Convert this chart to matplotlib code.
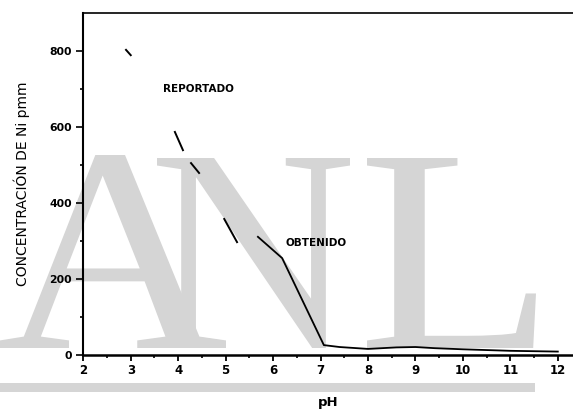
import numpy as np
import matplotlib
matplotlib.use("Agg")
import matplotlib.pyplot as plt
from matplotlib.textpath import TextPath
from matplotlib.patches import PathPatch, Rectangle
from matplotlib.font_manager import FontProperties
from matplotlib.transforms import Affine2D

# reported curve (dashed, only fragments survive in the scan; nan = gap)
rep_ph = [2.90, 3.00, np.nan, 3.93, 4.10, np.nan, 4.27, 4.44, np.nan, 4.97, 5.24]
rep_ni = [803, 789, np.nan, 587, 539, np.nan, 505, 479, np.nan, 358, 297]

# obtained curve
obt_ph = [5.68, 6.19, 7.07, 7.4, 8.0, 8.6, 9.0, 9.4, 10.0, 11.0, 12.0]
obt_ni = [311, 255, 26, 21, 16, 20, 21, 18, 15, 11, 9]

x_ticks = list(range(2, 13))
y_ticks = [0, 200, 400, 600, 800]

W, H = 573, 411
fig = plt.figure(figsize=(W / 100, H / 100), dpi=100)
ax = fig.add_axes([83.3 / W, 1 - 355 / H, 1 - 83.3 / W, 342 / H])
ax.patch.set_visible(False)

# watermark "ANL" behind the plot
gray = "#d5d5d5"
serif = FontProperties(family="Liberation Serif")
wm = {"A": (0, 226, 155, 348), "N": (157, 350, 158, 348), "L": (367, 536, 158, 348)}
for ch, (x0, x1, yt, yb) in wm.items():
    p = TextPath((0, 0), ch, size=1, prop=serif)
    ext = p.get_extents()
    tr = (Affine2D().translate(-ext.x0, -ext.y0)
          .scale((x1 - x0) / ext.width / W, (yb - yt) / ext.height / H)
          .translate(x0 / W, 1 - yb / H) + fig.transFigure)
    fig.add_artist(PathPatch(p, transform=tr, fc=gray, ec="none", zorder=-1))
fig.add_artist(Rectangle((0, 1 - 392 / H), 535 / W, 9 / H, transform=fig.transFigure,
                         fc=gray, ec="none", zorder=-1))

ax.plot(rep_ph, rep_ni, color="black", lw=1.4)
ax.plot(obt_ph, obt_ni, color="black", lw=1.3)

ax.text(4.43, 700, "REPORTADO", fontsize=7.5, fontweight="bold", ha="center", va="center")
ax.text(6.9, 295, "OBTENIDO", fontsize=7.5, fontweight="bold", ha="center", va="center")

ax.set_xlim(2, 12.32)
ax.set_ylim(0, 900)
ax.set_xticks(x_ticks)
ax.set_yticks(y_ticks)
ax.set_xticks(np.arange(2.5, 12, 1), minor=True)
ax.set_yticks([100, 300, 500, 700], minor=True)

ax.spines["right"].set_visible(False)
ax.spines["left"].set_linewidth(1.5)
ax.spines["bottom"].set_linewidth(1.8)
ax.spines["top"].set_linewidth(1.2)

ax.tick_params(axis="x", which="major", length=4.5, width=1.3, pad=2, labelsize=8.5)
ax.tick_params(axis="y", which="major", length=5, width=1.2, pad=3, labelsize=7.8)
ax.tick_params(which="minor", length=2.5, width=1.2)
for lab in ax.get_xticklabels() + ax.get_yticklabels():
    lab.set_fontweight("bold")

ax.set_xlabel("pH", fontsize=9.5, fontweight="bold", labelpad=14)
ax.set_ylabel("CONCENTRACIÓN DE Ni pmm", fontsize=10, labelpad=14)

fig.savefig("out.png", dpi=100)
